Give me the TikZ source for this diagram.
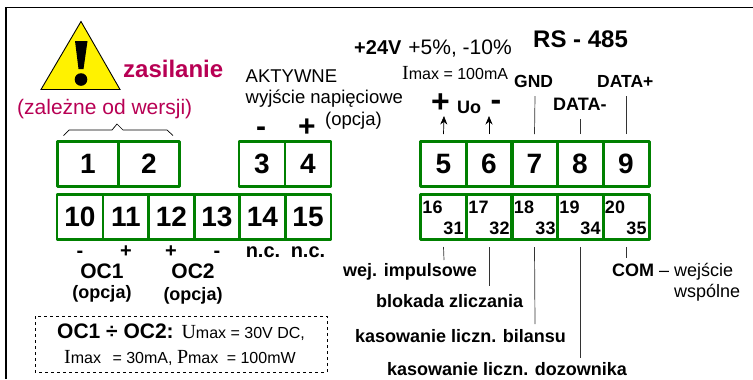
\documentclass[tikz,border=0pt]{standalone}
\usepackage{fontspec}
\setmainfont{Liberation Sans}
\newfontfamily\serifI{Liberation Serif}
\definecolor{termgreen}{RGB}{0,128,0}
\definecolor{crim}{RGB}{184,0,84}
\newcommand{\fs}[1]{\fontsize{#1bp}{#1bp}\selectfont}
\newcommand{\sI}[1]{{\serifI\fs{20}#1}}
\tikzset{
  term/.style={draw=termgreen,line width=3pt,line join=round,minimum width=#1,minimum height=45.5bp,inner sep=0pt,font=\bfseries\fs{28},text=black},
  term/.default=46bp,
  lbl/.style={anchor=base west,inner sep=0pt},
  lblc/.style={anchor=base,inner sep=0pt},
  lead/.style={draw=black!80,line width=0.7pt},
  leadarrow/.style={draw=black,line width=0.7pt,-{Stealth[length=8.5bp,width=7bp]}},
  frameline/.style={draw=black,line width=1.6pt},
  smallnum/.style={anchor=base,inner sep=0pt,font=\bfseries\fs{18}}
}
\usetikzlibrary{arrows.meta}
\begin{document}
\begin{tikzpicture}[x=1bp,y=-1bp]
\useasboundingbox (0,0) rectangle (753,379);
\fill[white] (0,0) rectangle (753,379);
% frame
\coordinate (fa) at (6,379); \coordinate (fb) at (6,7.5); \coordinate (fc) at (753,7.5);
\draw[frameline] (fa) -- (fb) -- (fc);
% warning
\coordinate (wa) at (81,21.5); \coordinate (wb) at (120,89.5); \coordinate (wc) at (41,89.5);
\draw[fill=yellow,line width=0.9pt,line join=miter] (wa) -- (wb) -- (wc) -- cycle;
\fill[black] (75,41) -- (87.5,41) -- (83.5,69) -- (78.5,69) -- cycle;
\fill[black] (81,79.5) circle (6.3);
\node[lbl,text=crim,font=\bfseries\fs{24}] (zas) at (123,77) {zasilanie};
\node[lbl,text=crim,font=\fs{21}] (zal) at (17,114) {(zależne od wersji)};
% brace
\coordinate (b1) at (63.5,135.5); \coordinate (b2) at (69,130); \coordinate (b3) at (112,130);
\coordinate (b4) at (117,124); \coordinate (b5) at (123,130); \coordinate (b6) at (167,130); \coordinate (b7) at (173,135.5);
\draw[line width=0.7pt] (b1) -- (b2) -- (b3) -- (b4) -- (b5) -- (b6) -- (b7);
% top-left terminals
\node[term=61.5bp] (t1) at (88,164) {1};
\node[term=61.5bp] (t2) at (149,164) {2};
\node[term] (t3) at (262,164) {3};
\node[term] (t4) at (308,164) {4};
% second row
\node[term] (t10) at (80,217) {10};
\node[term] (t11) at (126,217) {11};
\node[term] (t12) at (171.5,217) {12};
\node[term] (t13) at (217,217) {13};
\node[term] (t14) at (262.5,217) {14};
\node[term] (t15) at (308,217) {15};
% right terminals
\node[term] (t5) at (443.5,164) {5};
\node[term] (t6) at (489,164) {6};
\node[term] (t7) at (534.5,164) {7};
\node[term] (t8) at (580,164) {8};
\node[term] (t9) at (626,164) {9};
\node[term] (r1) at (443.5,217) {};
\node[term] (r2) at (489,217) {};
\node[term] (r3) at (534.5,217) {};
\node[term] (r4) at (580,217) {};
\node[term] (r5) at (626,217) {};
% numbers in right lower row
\node[smallnum] (n16) at (432.5,213) {16};
\node[smallnum] (n31) at (453.5,234) {31};
\node[smallnum] (n17) at (478.5,213) {17};
\node[smallnum] (n32) at (499.5,234) {32};
\node[smallnum] (n18) at (524,213) {18};
\node[smallnum] (n33) at (545.5,234) {33};
\node[smallnum] (n19) at (569.5,213) {19};
\node[smallnum] (n34) at (590.5,234) {34};
\node[smallnum] (n20) at (615,213) {20};
\node[smallnum] (n35) at (636.5,234) {35};
% active output
\node[lbl,font=\fs{18.5}] (akt) at (245.5,82) {AKTYWNE};
\node[lbl,font=\fs{18.5}] (wyj) at (245.5,103) {wyjście napięciowe};
\node[lbl,font=\fs{18.5}] (opc) at (325,125) {(opcja)};
\node[lblc,font=\bfseries\fs{30}] (m3) at (261,136) {-};
\node[lblc,font=\bfseries\fs{30}] (p4) at (307,136) {+};
% lower left labels
\node[lblc,font=\bfseries\fs{20}] (s10) at (80,257) {-};
\node[lblc,font=\bfseries\fs{20}] (s11) at (126,257) {+};
\node[lblc,font=\bfseries\fs{20}] (s12) at (171,257) {+};
\node[lblc,font=\bfseries\fs{20}] (s13) at (217,257) {-};
\node[lblc,font=\bfseries\fs{20}] (s14) at (263,257) {n.c.};
\node[lblc,font=\bfseries\fs{20}] (s15) at (308,257) {n.c.};
\node[lblc,font=\bfseries\fs{21}] (oc1) at (102,278) {OC1};
\node[lblc,font=\bfseries\fs{21}] (oc2) at (193,278) {OC2};
\node[lblc,font=\bfseries\fs{18}] (op1) at (102,298) {(opcja)};
\node[lblc,font=\bfseries\fs{18}] (op2) at (193,300) {(opcja)};
% dashed note
\draw[line width=0.8pt,dash pattern=on 3bp off 3bp] (35,316) rectangle (327,372);
\node[lbl] (n1) at (57,338) {\bfseries\fs{21}OC1 ÷ OC2: \mdseries\sI{U}\fs{16}max = 30V DC,};
\node[lbl] (n2) at (64,363) {\sI{I}\fs{16}max\hspace{7bp} = 30mA, \sI{P}\fs{16}max\hspace{4bp} = 100mW};
% right-hand top labels
\node[lbl] (v24) at (354,54) {\bfseries\fs{20}+24V\mdseries\fs{21}\hspace{7bp}+5\%, -10\%};
\node[lbl,font=\bfseries\fs{24}] (rs) at (533,47) {RS - 485};
\node[lbl] (imax) at (402,79) {\sI{I}\fs{16}max = 100mA};
\node[lbl,font=\bfseries\fs{17.5}] (gnd) at (514,87) {GND};
\node[lbl,font=\bfseries\fs{17.5}] (dp) at (597,87) {DATA+};
\node[lbl,font=\bfseries\fs{18}] (dm) at (553,110) {DATA-};
\node[lblc,font=\bfseries\fs{32}] (plus) at (440.5,112) {+};
\node[lblc,font=\bfseries\fs{32}] (minus) at (496,110) {-};
\node[lbl,font=\bfseries\fs{18}] (uo) at (457,113) {Uo};
% leads above
\coordinate (a5) at (444,116); \coordinate (a6) at (489,116);
\coordinate (a7) at (535,96); \coordinate (a8) at (580,119); \coordinate (a9) at (626,96);
\draw[leadarrow] (t5.north |- 0,134) -- (a5);
\draw[leadarrow] (t6.north |- 0,134) -- (a6);
\draw[lead] (t7.north |- 0,134) -- (a7);
\draw[lead] (t8.north |- 0,134) -- (a8);
\draw[lead] (t9.north |- 0,134) -- (a9);
% leads below
\coordinate (c5) at (444,260); \coordinate (c6) at (489,286);
\coordinate (c7) at (535,324); \coordinate (c8) at (580,358); \coordinate (c9) at (626,258);
\draw[lead] (r1.south |- 0,247) -- (c5);
\draw[lead] (r2.south |- 0,247) -- (c6);
\draw[lead] (r3.south |- 0,247) -- (c7);
\draw[lead] (r4.south |- 0,247) -- (c8);
\draw[lead] (r5.south |- 0,247) -- (c9);
% right-hand lower labels
\node[lbl,font=\bfseries\fs{18}] (wej) at (343,276) {wej. impulsowe};
\node[lbl,font=\bfseries\fs{18}] (blo) at (376,307) {blokada zliczania};
\node[lbl,font=\bfseries\fs{18}] (kb) at (355,342) {kasowanie liczn. bilansu};
\node[lbl,font=\bfseries\fs{18}] (kd) at (387,375) {kasowanie liczn. dozownika};
\node[lbl] (com) at (612,276) {\bfseries\fs{18}COM \mdseries\fs{18}– wejście};
\node[lbl,font=\fs{18}] (wsp) at (674,297) {wspólne};
\end{tikzpicture}
\end{document}
